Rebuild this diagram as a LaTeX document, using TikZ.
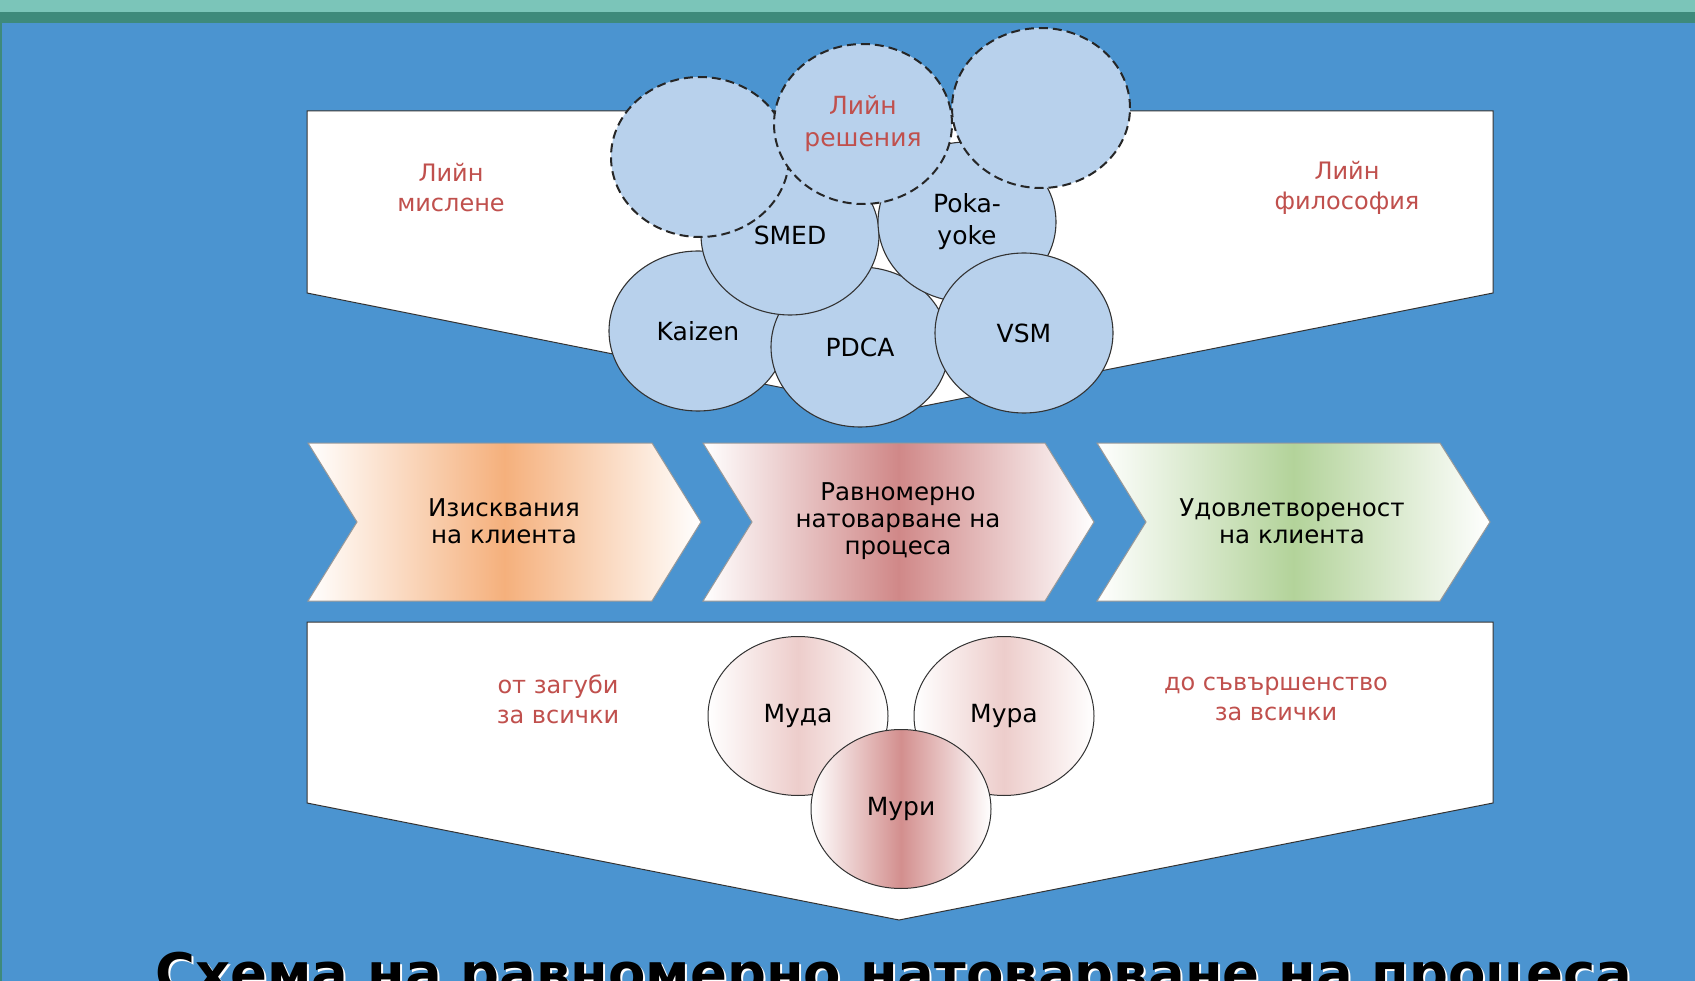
\documentclass[tikz,border=0pt]{standalone}
\usepackage{fontspec}
\usepackage{graphicx}
\setmainfont{DejaVu Sans}
\usetikzlibrary{shapes.geometric}
\definecolor{bgblue}{HTML}{4B94D0}
\definecolor{tealA}{HTML}{7BC5B9}
\definecolor{tealB}{HTML}{3E8A7B}
\definecolor{circfill}{HTML}{B8D1EC}
\definecolor{lineg}{HTML}{333333}
\definecolor{redtxt}{HTML}{C0504D}
\definecolor{chorange}{HTML}{F5B07C}
\definecolor{chrose}{HTML}{D08888}
\definecolor{chgreen}{HTML}{B3D39A}
\definecolor{pinkA}{HTML}{EDCDCB}
\definecolor{pinkB}{HTML}{D38F8E}
\tikzset{
  panel/.style={fill=white, draw=lineg, line width=1pt},
  chev/.style={draw=gray!80, line width=1pt, left color=white, right color=white},
  bub/.style={ellipse, fill=circfill, draw=lineg, line width=1.1pt, minimum width=178pt, minimum height=160pt, inner sep=0pt, align=center, font=\fontsize{25}{32}\selectfont, text=black},
  dbub/.style={bub, draw=black!85, line width=2pt, dash pattern=on 9pt off 5pt},
  egg/.style={ellipse, draw=lineg, line width=1pt, minimum width=180pt, minimum height=159pt, inner sep=0pt, font=\fontsize{25}{32}\selectfont, text=black, left color=white, right color=white},
  redlab/.style={align=center, text=redtxt, font=\fontsize{24}{30}\selectfont, inner sep=0pt},
  chlab/.style={align=center, text=black, font=\fontsize{24.5}{27}\selectfont, inner sep=0pt}
}
\begin{document}
\begin{tikzpicture}[x=1pt,y=-1pt]
\useasboundingbox (0,0) rectangle (1695,981);
\clip (0,0) rectangle (1695,981);
\fill[bgblue] (0,0) rectangle (1695,981);
\fill[tealA] (0,0) rectangle (1695,12);
\fill[tealB] (0,12) rectangle (1695,23);
\fill[tealB] (0,23) rectangle (2,981);

% top panel
\path[panel] (307,111) -- (1493,111) -- (1493,293) -- (899,411) -- (307,293) -- cycle;
\node[redlab] (mis) at (451,188) {Лийн\\мислене};
\node[redlab] (fil) at (1347,188) {Лийн\\философия};

% solid bubbles
\node[bub] (kaizen) at (698,331) {Kaizen};
\node[bub] (pdca) at (860,347) {PDCA};
\node[bub] (smed) at (790,235) {SMED};
\node[bub] (poka) at (967,222) {Poka-\\yoke};
\node[bub] (vsm) at (1024,333) {VSM};
% dashed bubbles
\node[dbub] (dl) at (700,157) {};
\node[dbub] (dr) at (1041,108) {};
\node[dbub, text=redtxt] (dm) at (863,124) {Лийн\\решения};

% chevrons
\shadedraw[chev, middle color=chorange] (308,443) -- (652,443) -- (701,522) -- (652,601) -- (308,601) -- (357,522) -- cycle;
\shadedraw[chev, middle color=chrose] (703,443) -- (1045,443) -- (1094,522) -- (1045,601) -- (703,601) -- (752,522) -- cycle;
\shadedraw[chev, middle color=chgreen] (1097,443) -- (1440,443) -- (1490,522) -- (1440,601) -- (1097,601) -- (1146,522) -- cycle;
\node[chlab] (c1) at (504,521) {Изисквания\\на клиента};
\node[chlab] (c2) at (898,521) {Равномерно\\натоварване на\\процеса};
\node[chlab] (c3) at (1292,521) {Удовлетвореност\\на клиента};

% bottom panel
\path[panel] (307,622) -- (1493,622) -- (1493,803) -- (899,920) -- (307,803) -- cycle;
\node[redlab] (zag) at (558,699) {от загуби\\за всички};
\node[redlab] (sav) at (1276,699) {до съвършенство\\за всички};
\node[egg, middle color=pinkA] (muda) at (798,716) {Муда};
\node[egg, middle color=pinkA] (mura) at (1004,716) {Мура};
\node[egg, middle color=pinkB] (muri) at (901,809) {Мури};

% title (cut off by the lower edge, as in the reference)
\node[anchor=base west, inner sep=0pt, text=white] (titlesh) at (157,994) {\resizebox{1477pt}{!}{\bfseries Схема на равномерно натоварване на процеса}};
\node[anchor=base west, inner sep=0pt, text=black] (title) at (155,992) {\resizebox{1477pt}{!}{\bfseries Схема на равномерно натоварване на процеса}};
\end{tikzpicture}
\end{document}
